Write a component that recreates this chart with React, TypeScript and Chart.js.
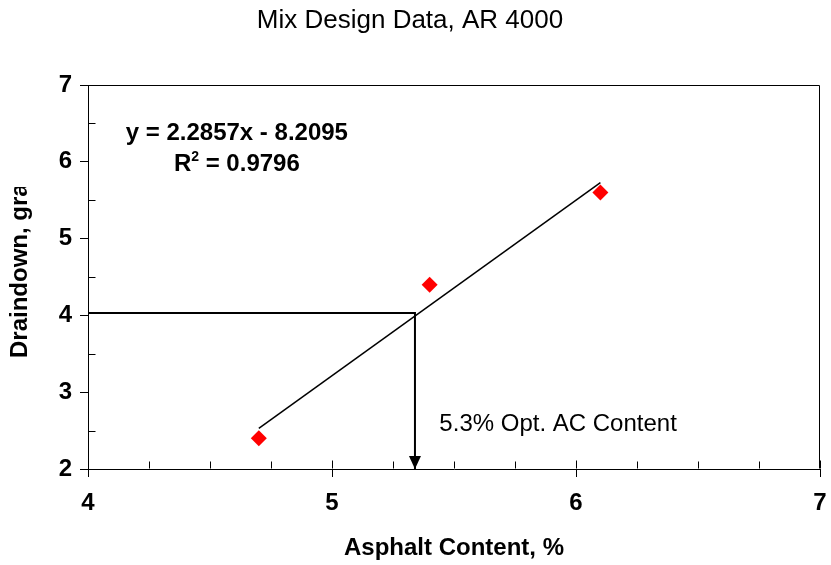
import React, { useEffect, useRef } from "react";
import { Chart, registerables } from "chart.js";

Chart.register(...registerables);

// ---- data ----
const asphaltContent = [4.7, 5.4, 6.1];
const draindown = [2.4, 4.4, 5.6];
const trendX = [4.7, 6.1];
const trendY = [2.53, 5.73];
const optimumAC = 5.34;
const optimumDraindown = 4.03;

const xMin = 4;
const xMax = 7;
const yMin = 2;
const yMax = 7;
const xMajorStep = 1;
const xMinorStep = 0.25;
const yMajorStep = 1;
const yMinorStep = 0.5;

const chartTitle = "Mix Design Data, AR 4000";
const xTitle = "Asphalt Content, %";
const yTitle = "Draindown, grams";
const equationText = "y = 2.2857x - 8.2095";
const r2Label = "R";
const r2Sup = "2";
const r2Value = " = 0.9796";
const annotationText = "5.3% Opt. AC Content";

// annotation anchors (data coordinates)
const equationAt = [4.61, 6.375];
const r2At = [4.61, 5.96];
const annotationAt = [5.44, 2.58];

const FONT = "'Liberation Sans', Arial, Helvetica, sans-serif";

const decorPlugin = {
  id: "decor",
  afterDraw(chart: any) {
    const { ctx, chartArea: ca, scales } = chart;
    const xs = scales.x;
    const ys = scales.y;
    ctx.save();
    ctx.strokeStyle = "#000";
    ctx.fillStyle = "#000";
    ctx.lineWidth = 1;

    const L = Math.round(ca.left) + 0.5;
    const R = Math.round(ca.right) - 0.5;
    const T = Math.round(ca.top) + 0.5;
    const B = Math.round(ca.bottom) - 0.5;
    // plot frame
    ctx.beginPath();
    ctx.moveTo(L, T);
    ctx.lineTo(R, T);
    ctx.lineTo(R, B);
    ctx.stroke();

    // x minor ticks (inside) and inner part of major ticks
    const nx = Math.round((xMax - xMin) / xMinorStep);
    ctx.beginPath();
    for (let i = 0; i <= nx; i++) {
      const v = xMin + i * xMinorStep;
      const px = Math.round(xs.getPixelForValue(v)) + 0.5;
      const isMajor = Math.abs(v / xMajorStep - Math.round(v / xMajorStep)) < 1e-6;
      ctx.moveTo(px, B);
      ctx.lineTo(px, B - (isMajor ? 8 : 7));
    }
    ctx.stroke();

    // y minor ticks (inside)
    const ny = Math.round((yMax - yMin) / yMinorStep);
    ctx.beginPath();
    for (let i = 0; i <= ny; i++) {
      const v = yMin + i * yMinorStep;
      const isMajor = Math.abs(v / yMajorStep - Math.round(v / yMajorStep)) < 1e-6;
      if (isMajor) continue;
      const py = Math.round(ys.getPixelForValue(v)) + 0.5;
      ctx.moveTo(L, py);
      ctx.lineTo(L + 7, py);
    }
    ctx.stroke();

    // arrow head at the end of the optimum guide line
    const ax = xs.getPixelForValue(optimumAC);
    const ay = ys.getPixelForValue(yMin);
    ctx.beginPath();
    ctx.moveTo(ax, ay);
    ctx.lineTo(ax - 6, ay - 13);
    ctx.lineTo(ax + 6, ay - 13);
    ctx.closePath();
    ctx.fill();

    // regression equation
    ctx.font = `bold 24px ${FONT}`;
    ctx.textBaseline = "middle";
    ctx.textAlign = "center";
    ctx.fillText(
      equationText,
      xs.getPixelForValue(equationAt[0]),
      ys.getPixelForValue(equationAt[1])
    );

    // R^2 line
    const rx = xs.getPixelForValue(r2At[0]);
    const ry = ys.getPixelForValue(r2At[1]);
    ctx.textAlign = "left";
    ctx.font = `bold 24px ${FONT}`;
    const wR = ctx.measureText(r2Label).width;
    const wV = ctx.measureText(r2Value).width;
    ctx.font = `bold 14px ${FONT}`;
    const wS = ctx.measureText(r2Sup).width;
    let sx = rx - (wR + wS + wV) / 2;
    ctx.font = `bold 24px ${FONT}`;
    ctx.fillText(r2Label, sx, ry);
    sx += wR;
    ctx.font = `bold 14px ${FONT}`;
    ctx.fillText(r2Sup, sx, ry - 8);
    sx += wS;
    ctx.font = `bold 24px ${FONT}`;
    ctx.fillText(r2Value, sx, ry);

    // annotation
    ctx.font = `24px ${FONT}`;
    ctx.textAlign = "left";
    ctx.fillText(
      annotationText,
      xs.getPixelForValue(annotationAt[0]),
      ys.getPixelForValue(annotationAt[1])
    );

    // y-axis title (clipped as in the reference)
    ctx.save();
    ctx.beginPath();
    ctx.rect(0, 187, 60, 400);
    ctx.clip();
    ctx.translate(20, 358);
    ctx.rotate(-Math.PI / 2);
    ctx.font = `bold 24px ${FONT}`;
    ctx.textAlign = "left";
    ctx.textBaseline = "middle";
    ctx.fillText(yTitle, 0, 0);
    ctx.restore();

    ctx.restore();
  },
};

export default function App() {
  const canvasRef = useRef<HTMLCanvasElement | null>(null);

  useEffect(() => {
    document.body.style.margin = "0";
    const canvas = canvasRef.current;
    if (!canvas) return;
    Chart.defaults.font.family = FONT;
    Chart.defaults.color = "#000";

    const points = asphaltContent.map((x, i) => ({ x, y: draindown[i] }));
    const trend = trendX.map((x, i) => ({ x, y: trendY[i] }));
    const guide = [
      { x: xMin, y: optimumDraindown },
      { x: optimumAC, y: optimumDraindown },
      { x: optimumAC, y: yMin },
    ];

    const chart = new Chart(canvas, {
      type: "scatter",
      data: {
        datasets: [
          {
            label: "Draindown",
            data: points,
            pointStyle: "rectRot",
            pointRadius: 8,
            backgroundColor: "#FF0000",
            borderColor: "#FF0000",
            borderWidth: 0,
            showLine: false,
          },
          {
            label: "Trend",
            data: trend,
            showLine: true,
            borderColor: "#000",
            borderWidth: 1.5,
            pointRadius: 0,
            fill: false,
          },
          {
            label: "Optimum",
            data: guide,
            showLine: true,
            borderColor: "#000",
            borderWidth: 2,
            pointRadius: 0,
            fill: false,
          },
        ],
      },
      options: {
        responsive: false,
        animation: false,
        devicePixelRatio: 1,
        layout: { padding: { left: 0, right: 11, top: 0, bottom: 0 } },
        plugins: {
          legend: { display: false },
          tooltip: { enabled: false },
          title: {
            display: true,
            text: chartTitle,
            color: "#000",
            font: { family: FONT, size: 26, weight: "normal", lineHeight: 1.2 },
            padding: { top: 5, bottom: 48.8 },
          },
        },
        scales: {
          x: {
            type: "linear",
            min: xMin,
            max: xMax,
            ticks: {
              stepSize: xMajorStep,
              color: "#000",
              font: { family: FONT, size: 24, weight: "bold" },
              padding: 12,
              maxRotation: 0,
            },
            grid: {
              drawOnChartArea: false,
              drawTicks: true,
              tickLength: 8,
              color: "#000",
            },
            border: { display: true, color: "#000", width: 1 },
            title: {
              display: true,
              text: xTitle,
              color: "#000",
              font: { family: FONT, size: 24, weight: "bold", lineHeight: 1.2 },
              padding: { top: 0, bottom: 2 },
            },
            afterFit: (s: any) => {
              s.height = 96;
              s.paddingLeft = 0;
              s.paddingRight = 0;
            },
          },
          y: {
            type: "linear",
            min: yMin,
            max: yMax,
            ticks: {
              stepSize: yMajorStep,
              color: "#000",
              font: { family: FONT, size: 24, weight: "bold" },
              padding: 8,
            },
            grid: {
              drawOnChartArea: false,
              drawTicks: true,
              tickLength: 8,
              color: "#000",
            },
            border: { display: true, color: "#000", width: 1 },
            title: { display: false },
            afterFit: (s: any) => {
              s.width = 88;
            },
          },
        },
      },
      plugins: [decorPlugin],
    });

    return () => chart.destroy();
  }, []);

  return (
    <div style={{ position: "fixed", left: 0, top: 0, width: 831, height: 565, background: "#fff" }}>
      <canvas ref={canvasRef} width={831} height={565} />
    </div>
  );
}
